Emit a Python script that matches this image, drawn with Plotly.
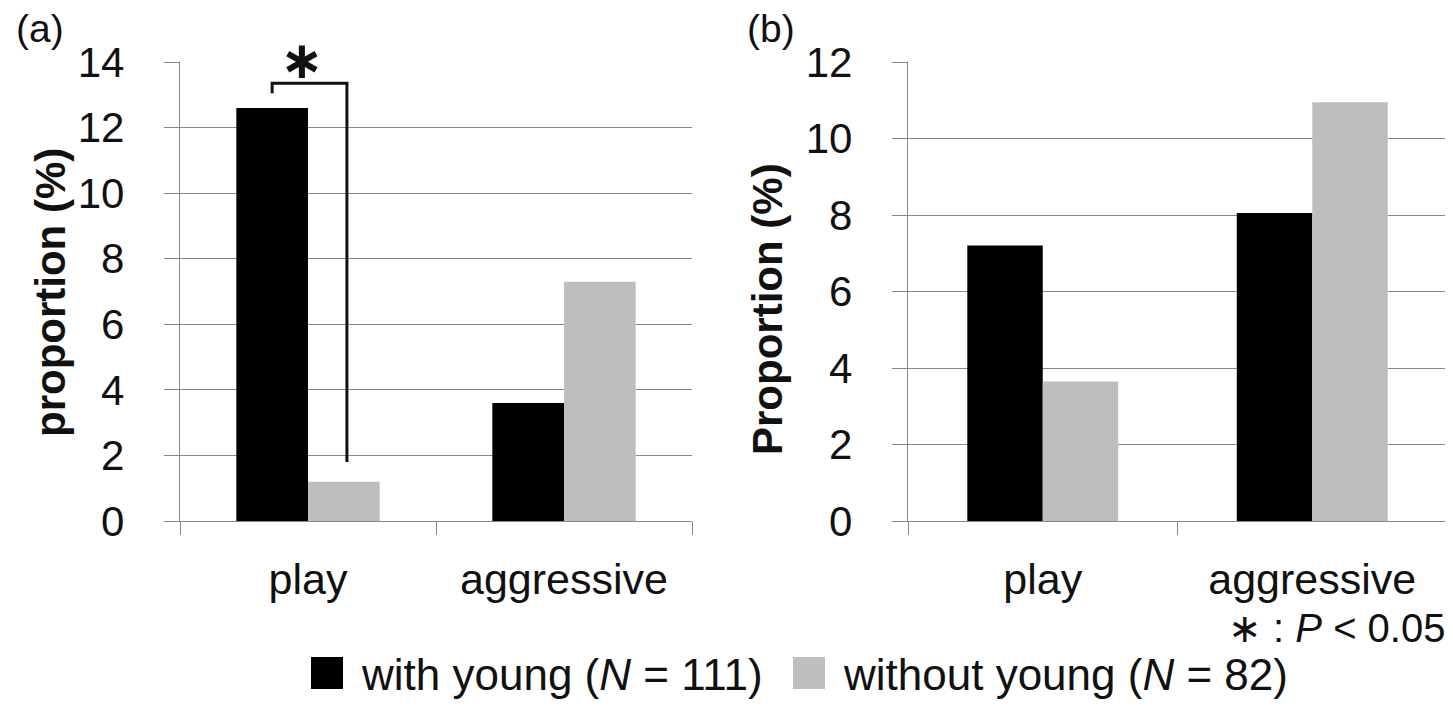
import plotly.graph_objects as go

# ---- data ----
categories = ["play", "aggressive"]
a_with_young = [12.6, 3.6]
a_without_young = [1.2, 7.3]
b_with_young = [7.2, 8.05]
b_without_young = [3.65, 10.95]
a_ticks = [0, 2, 4, 6, 8, 10, 12, 14]
b_ticks = [0, 2, 4, 6, 8, 10, 12]
series_names = ["with young (<i>N</i> = 111)", "without young (<i>N</i> = 82)"]
series_colors = ["#000000", "#bebebe"]
panel_labels = ["(a)", "(b)"]
y_titles = ["proportion (%)", "Proportion (%)"]
sig_note = "∗ : <i>P</i> &lt; 0.05"

# ---- style ----
W, H = 1453, 711
OX, OY = 8, 8  # page body margin offset
FONT = "Liberation Sans, Arial, sans-serif"
GRID = "#878787"
BARGAP = 0.44


def px_x(v):
    return (v - OX) / W


def px_y(v):
    return 1 - (v - OY) / H


fig = go.Figure()
for vals, name, col, xa, ya in [
    (a_with_young, series_names[0], series_colors[0], "x", "y"),
    (a_without_young, series_names[1], series_colors[1], "x", "y"),
    (b_with_young, series_names[0], series_colors[0], "x2", "y2"),
    (b_without_young, series_names[1], series_colors[1], "x2", "y2"),
]:
    fig.add_trace(go.Bar(x=categories, y=vals, name=name, marker_color=col,
                         marker_line_width=0, xaxis=xa, yaxis=ya, showlegend=False))

ydom = [px_y(521), px_y(62)]
common_x = dict(type="category", showline=True, linecolor=GRID, linewidth=1.3,
                ticks="outside", tickson="boundaries", ticklen=13, tickcolor=GRID,
                tickwidth=1.3, showgrid=False, automargin=False,
                tickfont=dict(family=FONT, size=43, color="#111"),
                ticklabelstandoff=20)
common_y = dict(showline=True, linecolor=GRID, linewidth=1.3, ticks="outside",
                ticklen=15, tickcolor=GRID, tickwidth=1.3, showgrid=True,
                gridcolor=GRID, gridwidth=1.3, zeroline=False, automargin=False,
                tickfont=dict(family=FONT, size=42, color="#111"),
                ticklabelstandoff=31, domain=ydom)

fig.update_layout(
    width=W, height=H,
    margin=dict(l=0, r=0, t=0, b=0, pad=0, autoexpand=False),
    paper_bgcolor="white", plot_bgcolor="white",
    barmode="group", bargap=BARGAP, bargroupgap=0,
    showlegend=False,
    xaxis=dict(domain=[px_x(180), px_x(692)], anchor="y", **common_x),
    yaxis=dict(range=[0, 14], tickvals=a_ticks, anchor="x", **common_y),
    xaxis2=dict(domain=[px_x(908), px_x(1447)], anchor="y2", **common_x),
    yaxis2=dict(range=[0, 12], tickvals=b_ticks, anchor="x2", **common_y),
    font=dict(family=FONT, color="#111"),
)

ann = []
# panel labels
ann.append(dict(text=panel_labels[0], x=px_x(40), y=px_y(29), xref="paper", yref="paper",
                showarrow=False, font=dict(size=39, family=FONT, color="#111"),
                xanchor="center", yanchor="middle"))
ann.append(dict(text=panel_labels[1], x=px_x(771), y=px_y(29), xref="paper", yref="paper",
                showarrow=False, font=dict(size=39, family=FONT, color="#111"),
                xanchor="center", yanchor="middle"))
# y titles
ann.append(dict(text="<b>%s</b>" % y_titles[0], x=px_x(50), y=px_y(293), xref="paper", yref="paper",
                showarrow=False, textangle=-90, font=dict(size=42, family=FONT, color="#111"),
                xanchor="center", yanchor="middle"))
ann.append(dict(text="<b>%s</b>" % y_titles[1], x=px_x(767), y=px_y(309), xref="paper", yref="paper",
                showarrow=False, textangle=-90, font=dict(size=42, family=FONT, color="#111"),
                xanchor="center", yanchor="middle"))
# significance note
ann.append(dict(text=sig_note, x=px_x(1447), y=px_y(628), xref="paper", yref="paper",
                showarrow=False, font=dict(size=40, family=FONT, color="#111"),
                xanchor="right", yanchor="middle"))

# significance bracket between the two "play" bars of panel (a)
w = (1 - BARGAP) / 2
left_c = 0 - w / 2
right_c = 0 + w / 2 + 0.012
top_y = a_with_young[0] + 0.75
shapes = [dict(type="path", xref="x", yref="y",
               path="M %f,%f L %f,%f L %f,%f L %f,%f" % (
                   left_c, a_with_young[0] + 0.45, left_c, top_y,
                   right_c, top_y, right_c, a_without_young[0] + 0.6),
               line=dict(color="#111", width=3))]
ann.append(dict(text="<b>∗</b>", x=(left_c + right_c) / 2 - 0.03, y=14.0, yshift=2,
                xref="x", yref="y",
                showarrow=False, font=dict(size=52, family="DejaVu Sans", color="#111"),
                xanchor="center", yanchor="middle"))

# legend drawn manually (large square swatches)
legend_items = [(311, series_colors[0], series_names[0]), (793, series_colors[1], series_names[1])]
for x0, col, name in legend_items:
    shapes.append(dict(type="rect", xref="paper", yref="paper",
                       x0=px_x(x0), x1=px_x(x0 + 32), y0=px_y(689), y1=px_y(657),
                       fillcolor=col, line=dict(width=0)))
    ann.append(dict(text=name, x=px_x(x0 + 48), y=px_y(674), xref="paper", yref="paper",
                    showarrow=False, font=dict(size=44, family=FONT, color="#111"),
                    xanchor="left", yanchor="middle"))

fig.update_layout(annotations=ann, shapes=shapes)
fig.write_html("out.html")
